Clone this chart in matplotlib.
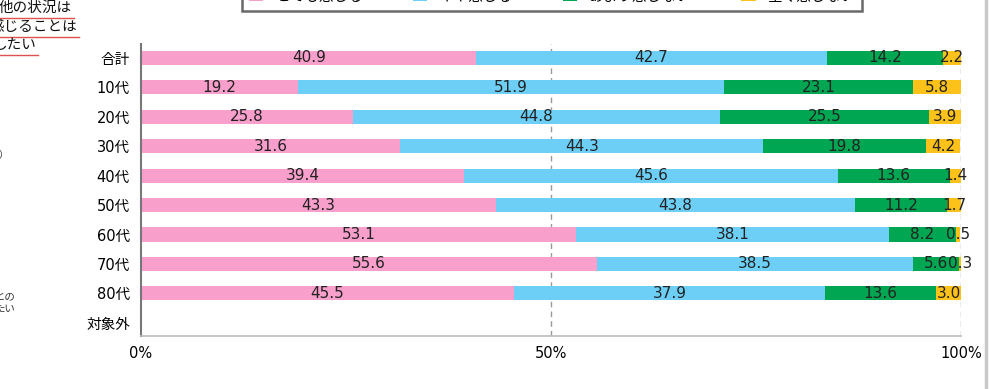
import numpy as np
import matplotlib.pyplot as plt
from matplotlib.lines import Line2D
from matplotlib.patches import Patch

plt.rcParams['font.family'] = ['DejaVu Sans', 'Noto Sans CJK JP']

categories = ["合計", "10代", "20代", "30代", "40代", "50代", "60代", "70代", "80代", "対象外"]
series_names = ["とても感じる", "やや感じる", "あまり感じない", "全く感じない"]
s1 = [40.9, 19.2, 25.8, 31.6, 39.4, 43.3, 53.1, 55.6, 45.5, np.nan]
s2 = [42.7, 51.9, 44.8, 44.3, 45.6, 43.8, 38.1, 38.5, 37.9, np.nan]
s3 = [14.2, 23.1, 25.5, 19.8, 13.6, 11.2, 8.2, 5.6, 13.6, np.nan]
s4 = [2.2, 5.8, 3.9, 4.2, 1.4, 1.7, 0.5, 0.3, 3.0, np.nan]
colors = ["#f99fcb", "#6dcff6", "#00a651", "#fdc21a"]
x_ticks = [0, 50, 100]
x_ticklabels = ["0%", "50%", "100%"]

W, H = 993, 389
fig = plt.figure(figsize=(W / 100, H / 100), dpi=100)
ax = fig.add_axes([141 / W, 1 - 336 / H, 820 / W, 292 / H])

y = np.arange(len(categories))
left = np.zeros(len(categories))
for vals, c in zip([s1, s2, s3, s4], colors):
    vals = np.array(vals, dtype=float)
    v = np.nan_to_num(vals)
    ax.barh(y, v, left=left, height=0.48, color=c, linewidth=0)
    for yi, (l, val) in enumerate(zip(left, vals)):
        if not np.isnan(val):
            ax.text(l + val / 2, yi, f"{val:.1f}", ha="center", va="center",
                    fontsize=11, color="#222222")
    left = left + v

ax.set_xlim(0, 100)
ax.set_ylim(len(categories) - 0.55, -0.475)
ax.set_yticks(y)
ax.set_yticklabels(categories, fontsize=10.5)
ax.set_xticks(x_ticks)
ax.set_xticklabels(x_ticklabels, fontsize=10.5)
ax.tick_params(length=0, pad=8)
ax.tick_params(axis="x", pad=7)
for v in [50, 100]:
    ax.axvline(v, color="#999999", linestyle=(0, (4, 3)), linewidth=1, zorder=0)
for s in ["top", "right"]:
    ax.spines[s].set_visible(False)
ax.spines["left"].set_color("#777777")
ax.spines["left"].set_linewidth(1.5)
ax.spines["bottom"].set_color("#bbbbbb")
ax.spines["bottom"].set_linewidth(1.2)

# legend box cut off at the top edge
handles = [Patch(facecolor=c) for c in colors]
leg = fig.legend(handles, series_names, loc="lower left", ncol=4, mode="expand",
                 bbox_to_anchor=(242 / W, 1 - 11 / H, 620 / W, 0.06),
                 fontsize=10.5, frameon=True, fancybox=False, borderaxespad=0,
                 handlelength=1.0, borderpad=0.45)
leg.get_frame().set_edgecolor("#444444")
leg.get_frame().set_linewidth(1.8)

# fragments of neighbouring content on the left
frag = [("他の状況は", 72, 8), ("感じることは", 77, 27), ("したい", 36, 45)]
for t, xr, yc in frag:
    fig.text(xr / W, 1 - yc / H, t, ha="right", va="center", fontsize=10.5,
             color="#111111", family="Noto Sans CJK JP")
    fig.add_artist(Line2D([0, (xr + 2) / W], [1 - (yc + 10) / H] * 2,
                          color="#e05050", linewidth=1))
fig.text(8 / W, 1 - 155 / H, "）", ha="right", va="center", fontsize=7, color="#333333",
         family="Noto Sans CJK JP")
fig.text(16 / W, 1 - 297 / H, "との", ha="right", va="center", fontsize=7.5, color="#333333",
         family="Noto Sans CJK JP")
fig.text(16 / W, 1 - 309 / H, "たい", ha="right", va="center", fontsize=7.5, color="#333333",
         family="Noto Sans CJK JP")

# grey separator on the right
fig.add_artist(Line2D([985.5 / W] * 2, [0, 1], color="#c8c8c8", linewidth=2.5))

fig.savefig("out.png", dpi=100)
